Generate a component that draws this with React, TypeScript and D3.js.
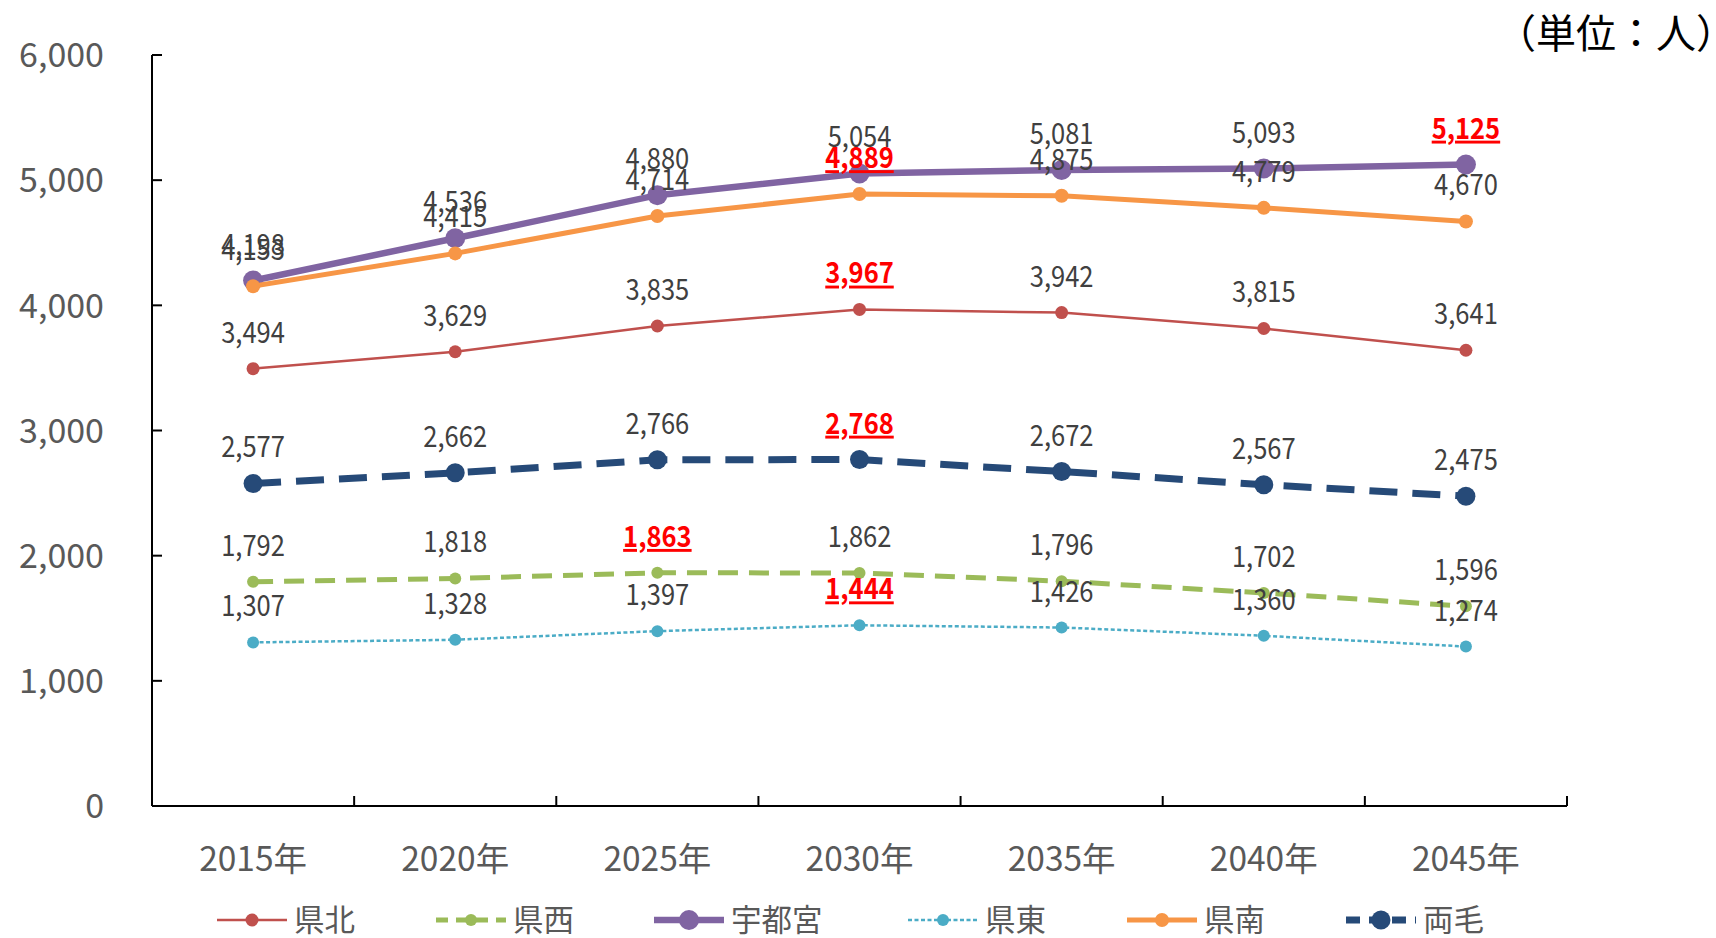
import * as d3 from "d3";

const years = ["2015年", "2020年", "2025年", "2030年", "2035年", "2040年", "2045年"];
const yTicks = [0, 1000, 2000, 3000, 4000, 5000, 6000];

const kenpoku = [3494, 3629, 3835, 3967, 3942, 3815, 3641];
const kensei = [1792, 1818, 1863, 1862, 1796, 1702, 1596];
const utsunomiya = [4198, 4536, 4880, 5054, 5081, 5093, 5125];
const kento = [1307, 1328, 1397, 1444, 1426, 1360, 1274];
const kennan = [4153, 4415, 4714, 4889, 4875, 4779, 4670];
const ryomo = [2577, 2662, 2766, 2768, 2672, 2567, 2475];

const series = [
  { name: "県北", values: kenpoku, color: "#C0504D", width: 2.5, dash: "", legDash: "", r: 6.5, lx: 217 },
  { name: "県西", values: kensei, color: "#9BBB59", width: 5, dash: "20 11", legDash: "12 8", r: 6, lx: 436 },
  { name: "宇都宮", values: utsunomiya, color: "#8064A2", width: 6.5, dash: "", legDash: "", r: 10, lx: 654 },
  { name: "県東", values: kento, color: "#4BACC6", width: 2.5, dash: "4 2.5", legDash: "4 2.5", r: 6, lx: 908 },
  { name: "県南", values: kennan, color: "#F79646", width: 5, dash: "", legDash: "", r: 7, lx: 1127 },
  { name: "両毛", values: ryomo, color: "#264A78", width: 7, dash: "28 15", legDash: "14 9", r: 9.5, lx: 1346 },
];

const W = 1716;
const H = 938;
const left = 152;
const right = 1567;
const top = 55;
const bottom = 806;
const font = "'Noto Sans CJK JP', 'Noto Sans', sans-serif";

export default function App() {
  const x = d3.scaleBand<string>().domain(years).range([left, right]);
  const y = d3.scaleLinear().domain([0, 6000]).range([bottom, top]);
  const cx = (i: number) => (x(years[i]) as number) + x.bandwidth() / 2;
  const fmt = d3.format(",");
  const legY = 920;

  return (
    <svg width={W} height={H} style={{ position: "absolute", left: 0, top: 0, background: "#fff" }}>
      <text x={1736} y={48} textAnchor="end" fontFamily={font} fontSize={40} fill="#000">
        （単位：人）
      </text>

      {/* axes */}
      <line x1={left} x2={left} y1={top} y2={bottom} stroke="#000" strokeWidth={2} />
      <line x1={left} x2={right} y1={bottom} y2={bottom} stroke="#000" strokeWidth={2} />
      {yTicks.map((t) => (
        <g key={t}>
          <line x1={left} x2={left + 10} y1={y(t)} y2={y(t)} stroke="#000" strokeWidth={2} />
          <text x={104} y={y(t)} dy="0.36em" textAnchor="end" fontFamily={font} fontSize={34} fill="#595959">
            {fmt(t)}
          </text>
        </g>
      ))}
      {years.map((yr, i) => (
        <g key={yr}>
          <line
            x1={(x(yr) as number) + x.bandwidth()}
            x2={(x(yr) as number) + x.bandwidth()}
            y1={bottom}
            y2={bottom - 10}
            stroke="#000"
            strokeWidth={2}
          />
          <text x={cx(i)} y={871} textAnchor="middle" fontFamily={font} fontSize={33.5} fill="#595959">
            {yr}
          </text>
        </g>
      ))}

      {/* lines */}
      {series.map((s) => {
        const line = d3
          .line<number>()
          .x((_, i) => cx(i))
          .y((v) => y(v));
        return (
          <g key={s.name}>
            <path d={line(s.values) || ""} fill="none" stroke={s.color} strokeWidth={s.width} strokeDasharray={s.dash} />
            {s.values.map((v, i) => (
              <circle key={i} cx={cx(i)} cy={y(v)} r={s.r} fill={s.color} />
            ))}
          </g>
        );
      })}

      {/* labels */}
      {series.map((s) => {
        const max = d3.max(s.values) as number;
        return (
          <g key={s.name}>
            {s.values.map((v, i) => {
              const hi = v === max;
              return (
                <text
                  key={i}
                  transform={`translate(${cx(i)},${y(v) - 26}) scale(0.88,1)`}
                  textAnchor="middle"
                  fontFamily={font}
                  fontSize={29}
                  fontWeight={hi ? "bold" : "normal"}
                  fill={hi ? "#FF0000" : "#404040"}
                  textDecoration={hi ? "underline" : "none"}
                >
                  {fmt(v)}
                </text>
              );
            })}
          </g>
        );
      })}

      {/* legend */}
      {series.map((s) => (
        <g key={s.name}>
          <line x1={s.lx} x2={s.lx + 70} y1={legY} y2={legY} stroke={s.color} strokeWidth={s.width} strokeDasharray={s.legDash} />
          <circle cx={s.lx + 35} cy={legY} r={s.r} fill={s.color} />
          <text x={s.lx + 77} y={legY} dy="0.36em" fontFamily={font} fontSize={30.5} fill="#595959">
            {s.name}
          </text>
        </g>
      ))}
    </svg>
  );
}
